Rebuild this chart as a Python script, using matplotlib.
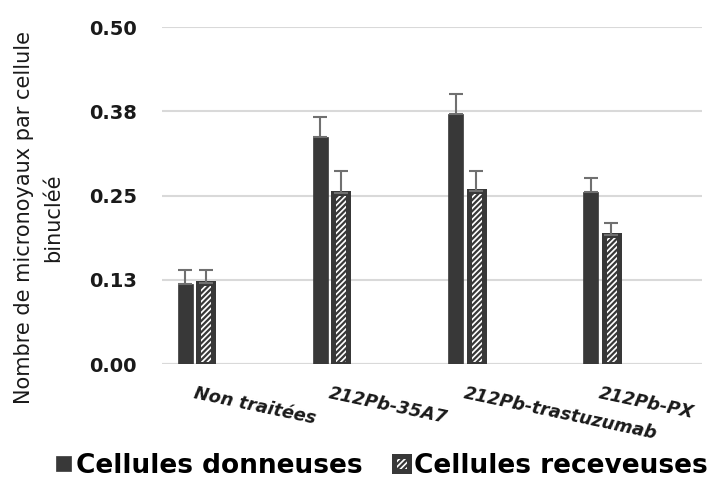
import numpy as np
import matplotlib.pyplot as plt

plt.rcParams['hatch.linewidth'] = 1.6

# Données : nombre moyen de micronoyaux par cellule binucléée
groupes = ['Non traitées', '212Pb-35A7', '212Pb-trastuzumab', '212Pb-PX']
donneuses = [0.119, 0.337, 0.371, 0.255]
err_donneuses = [0.021, 0.030, 0.030, 0.021]
receveuses = [0.121, 0.254, 0.257, 0.192]
err_receveuses = [0.019, 0.032, 0.029, 0.018]

ticks = [0.0, 0.125, 0.25, 0.375, 0.5]
tick_labels = ['0.00', '0.13', '0.25', '0.38', '0.50']

fonce = '#383838'
gris_err = '#707070'

fig = plt.figure(figsize=(7.1, 4.94), dpi=100)
ax = fig.add_axes([0.228, 0.263, 0.761, 0.682])

x = np.arange(len(groupes))
w = 0.111

ax.bar(x - 0.326, donneuses, w, color=fonce, edgecolor=fonce, linewidth=0.5,
       yerr=[np.zeros(4), err_donneuses],
       error_kw=dict(ecolor=gris_err, elinewidth=1.5, capsize=5, capthick=1.5),
       label='Cellules donneuses', zorder=3)
ax.bar(x - 0.174, receveuses, w, color='white', edgecolor=fonce, linewidth=3.6,
       hatch='//////', yerr=[np.zeros(4), err_receveuses],
       error_kw=dict(ecolor=gris_err, elinewidth=1.5, capsize=5, capthick=1.5),
       label='Cellules receveuses', zorder=3)

ax.set_xlim(-0.5, 3.5)
ax.set_ylim(0, 0.5)
ax.set_yticks(ticks)
ax.set_yticklabels(tick_labels, fontsize=14, fontweight='bold', color='#1a1a1a')
ax.tick_params(axis='y', length=0, pad=18)
ax.set_xticks([])
ax.grid(axis='y', color='#d9d9d9', linewidth=1.5, zorder=0)
ax.axhline(0, color='#d9d9d9', linewidth=1.5, zorder=1)
for s in ax.spines.values():
    s.set_visible(False)

# étiquettes des groupes, inclinées
for i, g in enumerate(groupes):
    ax.text(i - 0.25, -0.03, g, rotation=-12, rotation_mode='anchor',
            ha='left', va='top', fontsize=12.8, fontweight='bold',
            style='italic', color='#1a1a1a', transform=ax.transData)

fig.text(0.054, 0.56, 'Nombre de micronoyaux par cellule\nbinucléé',
         rotation=90, ha='center', va='center', fontsize=15,
         color='#1a1a1a', linespacing=1.55)

fig.legend(loc='center', bbox_to_anchor=(0.538, 0.057), ncol=2, frameon=False,
           prop=dict(weight='bold', size=19),
           handlelength=0.55, handleheight=0.55, handletextpad=0.2,
           columnspacing=1.2)

fig.savefig('out.png', dpi=100)
